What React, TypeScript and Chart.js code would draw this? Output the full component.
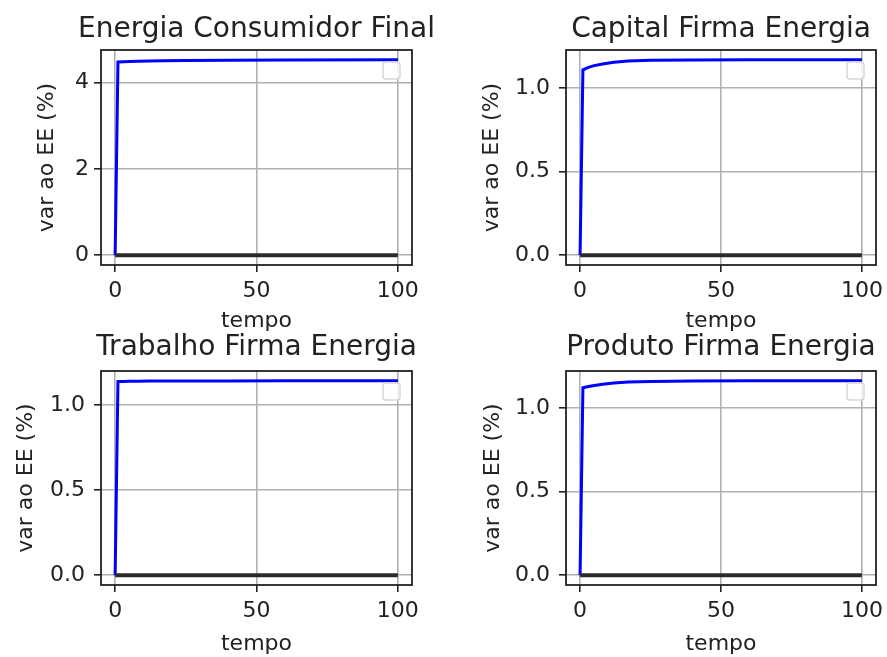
import React, { useEffect, useRef } from 'react';
import { Chart, registerables } from 'chart.js';

Chart.register(...registerables);

// ---- data ----
const tempo = [0, 1, 3, 5, 8, 12, 17, 25, 40, 60, 100];
const energiaConsumidorFinal = [0, 4.48, 4.488, 4.493, 4.498, 4.503, 4.508, 4.513, 4.52, 4.526, 4.532];
const capitalFirmaEnergia = [0, 1.11, 1.125, 1.135, 1.145, 1.155, 1.162, 1.167, 1.169, 1.17, 1.17];
const trabalhoFirmaEnergia = [0, 1.14, 1.14, 1.141, 1.141, 1.142, 1.142, 1.143, 1.143, 1.144, 1.144];
const produtoFirmaEnergia = [0, 1.12, 1.128, 1.134, 1.141, 1.148, 1.154, 1.158, 1.161, 1.162, 1.162];
const tempoReferencia = [0, 100];
const desvioReferencia = [0, 0];

const xTicks = [0, 50, 100];
const yTicksEnergia = [0, 2, 4];
const yTicksFirma = [0, 0.5, 1.0];

const titulos = [
  'Energia Consumidor Final',
  'Capital Firma Energia',
  'Trabalho Firma Energia',
  'Produto Firma Energia',
];
const xLabel = 'tempo';
const yLabel = 'var ao EE (%)';

// ---- styling ----
const FONT = '"DejaVu Sans", sans-serif';
const INK = '#222222';
const GRID = '#b0b0b0';

const panelDecor = {
  id: 'panelDecor',
  afterDraw(chart: any, _args: any, opts: any) {
    const { ctx, chartArea: a } = chart;
    ctx.save();
    // empty legend frame (upper right)
    const lw = 17;
    const lx = a.right - 12 - lw;
    const ly = a.top + 12;
    ctx.beginPath();
    if ((ctx as any).roundRect) (ctx as any).roundRect(lx, ly, lw, lw, 3);
    else ctx.rect(lx, ly, lw, lw);
    ctx.fillStyle = 'rgba(255,255,255,0.8)';
    ctx.fill();
    ctx.strokeStyle = '#d6d6d6';
    ctx.lineWidth = 1.5;
    ctx.stroke();
    // axes frame
    ctx.strokeStyle = INK;
    ctx.lineWidth = 1.8;
    ctx.strokeRect(a.left, a.top, a.right - a.left, a.bottom - a.top);
    // title
    ctx.fillStyle = INK;
    ctx.font = `28px ${FONT}`;
    ctx.textAlign = 'center';
    ctx.textBaseline = 'alphabetic';
    ctx.fillText(opts.title, (a.left + a.right) / 2, a.top - opts.titleGap);
    ctx.restore();
  },
};

type PanelGeom = {
  left: number; top: number; w: number; h: number;
  yAxisWidth: number; padRight: number; padTop: number; xAxisHeight: number;
  titleGap: number; yTitlePad: number; yTickPad: number; xTitlePad: number;
};

const panels: { title: string; values: number[]; yTicks: number[]; decimals: number; g: PanelGeom }[] = [
  {
    title: titulos[0], values: energiaConsumidorFinal, yTicks: yTicksEnergia, decimals: 0,
    g: { left: 0, top: 0, w: 443, h: 340, yAxisWidth: 101, padRight: 31, padTop: 50, xAxisHeight: 75, titleGap: 13.3, yTitlePad: 33.8, yTickPad: 5, xTitlePad: 6 },
  },
  {
    title: titulos[1], values: capitalFirmaEnergia, yTicks: yTicksFirma, decimals: 1,
    g: { left: 443, top: 0, w: 444, h: 340, yAxisWidth: 123, padRight: 11, padTop: 50, xAxisHeight: 75, titleGap: 13.3, yTitlePad: 35.8, yTickPad: 9, xTitlePad: 6 },
  },
  {
    title: titulos[2], values: trabalhoFirmaEnergia, yTicks: yTicksFirma, decimals: 1,
    g: { left: 0, top: 320, w: 443, h: 337, yAxisWidth: 101, padRight: 31, padTop: 51, xAxisHeight: 72, titleGap: 16, yTitlePad: 12.8, yTickPad: 9, xTitlePad: 0 },
  },
  {
    title: titulos[3], values: produtoFirmaEnergia, yTicks: yTicksFirma, decimals: 1,
    g: { left: 443, top: 320, w: 444, h: 337, yAxisWidth: 123, padRight: 11, padTop: 51, xAxisHeight: 72, titleGap: 16, yTitlePad: 36.8, yTickPad: 9, xTitlePad: 0 },
  },
];

function Panel({ p }: { p: (typeof panels)[number] }) {
  const ref = useRef<HTMLCanvasElement>(null);
  useEffect(() => {
    const g = p.g;
    const all = [...p.values, ...desvioReferencia];
    const lo = Math.min(...all);
    const hi = Math.max(...all);
    const span = hi - lo;
    const xLo = Math.min(...tempo);
    const xHi = Math.max(...tempo);
    const xSpan = xHi - xLo;
    const tickFont = { family: FONT, size: 22 };
    const chart = new Chart(ref.current as HTMLCanvasElement, {
      type: 'line',
      data: {
        datasets: [
          {
            label: 'referencia',
            data: tempoReferencia.map((t, i) => ({ x: t, y: desvioReferencia[i] })),
            borderColor: '#2b2b2b',
            borderWidth: 3.8,
            pointRadius: 0,
          },
          {
            label: p.title,
            data: tempo.map((t, i) => ({ x: t, y: p.values[i] })),
            borderColor: '#0000ff',
            borderWidth: 3,
            pointRadius: 0,
          },
        ],
      },
      options: {
        responsive: false,
        animation: false,
        devicePixelRatio: 1,
        layout: { padding: { left: 0, right: g.padRight, top: g.padTop, bottom: 0 } },
        plugins: {
          legend: { display: false },
          tooltip: { enabled: false },
          panelDecor: { title: p.title, titleGap: g.titleGap },
        } as any,
        scales: {
          x: {
            type: 'linear',
            min: xLo - 0.05 * xSpan,
            max: xHi + 0.05 * xSpan,
            afterBuildTicks: (s: any) => { s.ticks = xTicks.map((v) => ({ value: v })); },
            afterFit: (s: any) => { s.height = g.xAxisHeight; s.paddingLeft = 0; s.paddingRight = 0; },
            ticks: { font: tickFont, color: INK, padding: 6, maxRotation: 0, autoSkip: false, callback: (v: any) => String(v) },
            grid: { color: GRID, lineWidth: 1.6, tickLength: 7, tickColor: INK, tickWidth: 1.6 },
            border: { display: false },
            title: { display: true, text: xLabel, color: INK, font: { family: FONT, size: 22 }, padding: { top: 0, bottom: g.xTitlePad } },
          },
          y: {
            type: 'linear',
            min: lo - 0.05 * span,
            max: hi + 0.05 * span,
            afterBuildTicks: (s: any) => { s.ticks = p.yTicks.map((v) => ({ value: v })); },
            afterFit: (s: any) => { s.width = g.yAxisWidth; s.paddingTop = 0; s.paddingBottom = 0; },
            ticks: { font: tickFont, color: INK, padding: g.yTickPad, autoSkip: false, callback: (v: any) => Number(v).toFixed(p.decimals) },
            grid: { color: GRID, lineWidth: 1.6, tickLength: 7, tickColor: INK, tickWidth: 1.6 },
            border: { display: false },
            title: { display: true, text: yLabel, color: INK, font: { family: FONT, size: 22 }, padding: { top: g.yTitlePad, bottom: 0 } },
          },
        },
      },
      plugins: [panelDecor as any],
    });
    return () => chart.destroy();
  }, [p]);
  const g = p.g;
  return (
    <canvas
      ref={ref}
      width={g.w}
      height={g.h}
      style={{ position: 'absolute', left: g.left, top: g.top, width: g.w, height: g.h, display: 'block' }}
    />
  );
}

export default function App() {
  return (
    <div style={{ position: 'absolute', left: 0, top: 0, width: 887, height: 657, overflow: 'hidden', background: '#ffffff' }}>
      {panels.map((p, i) => (
        <Panel key={i} p={p} />
      ))}
    </div>
  );
}
